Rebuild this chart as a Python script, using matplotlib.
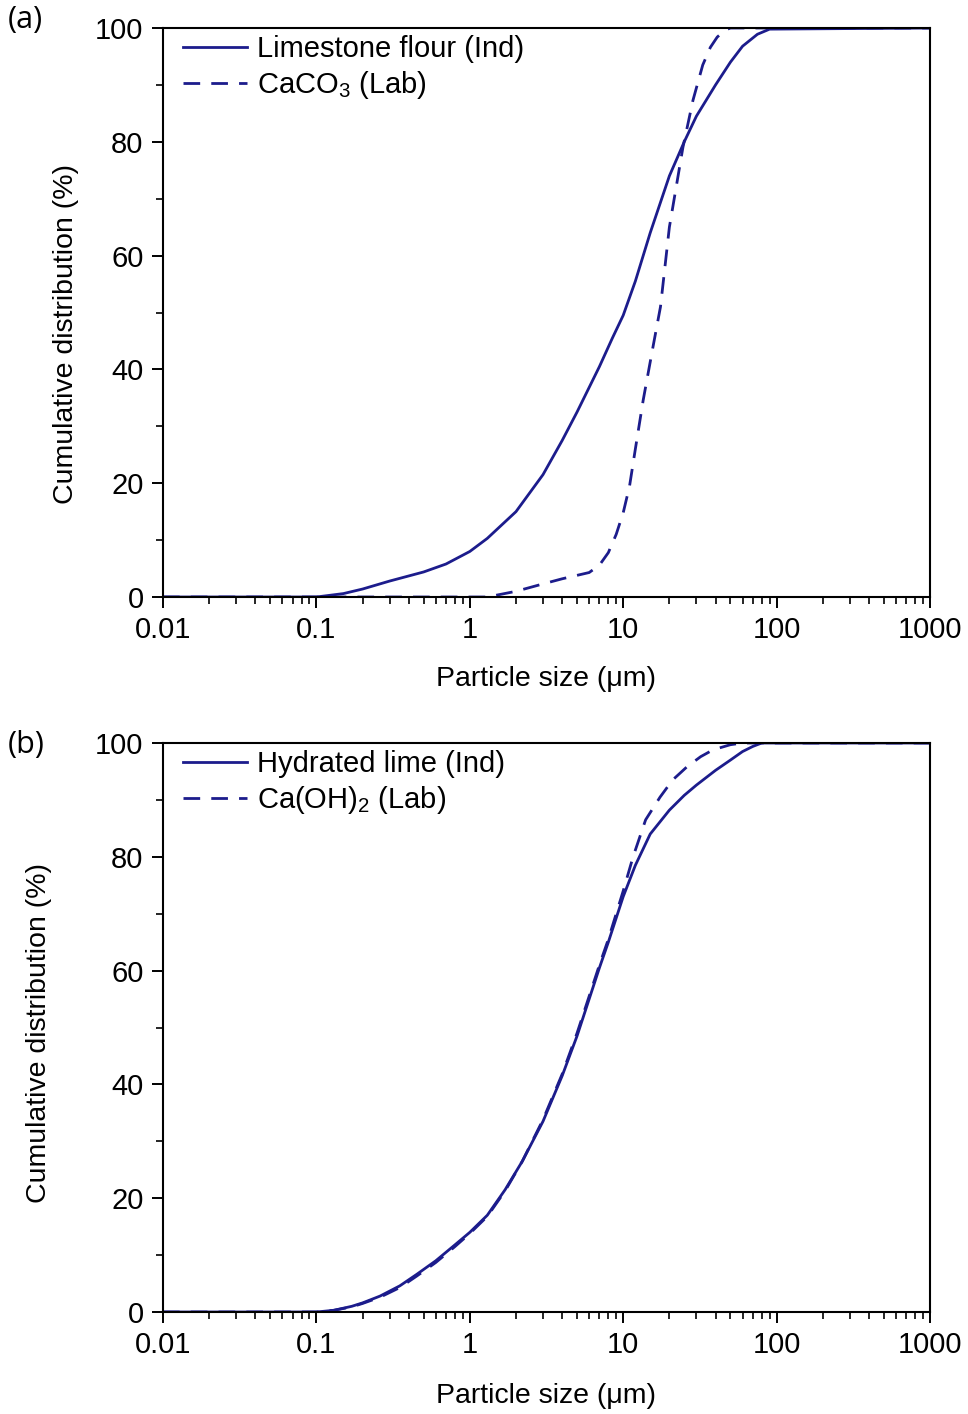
import matplotlib
matplotlib.use("Agg")
import matplotlib.pyplot as plt
from matplotlib.ticker import MultipleLocator, LogLocator, NullFormatter

plt.rcParams["font.family"] = ["Liberation Sans", "DejaVu Sans"]
plt.rcParams["mathtext.default"] = "regular"

# ---------------------------------------------------------------------------
# Data
# ---------------------------------------------------------------------------
# (a) limestone flour vs lab CaCO3
lime_flour_x = [0.01, 0.1, 0.15, 0.2, 0.3, 0.5, 0.7, 1.0, 1.3, 2, 3, 4, 5, 7, 8.5, 10,
                12, 15, 20, 25, 30, 40, 50, 60, 75, 90, 1000]
lime_flour_y = [0, 0, 0.6, 1.4, 2.8, 4.4, 5.8, 8.0, 10.3, 15, 21.5, 27.5, 32.5, 40.5, 45.5, 49.5,
                55.5, 64, 74, 80, 84.5, 90, 94, 96.8, 98.9, 99.8, 100]

caco3_x = [0.01, 1.3, 2, 3, 4, 6, 7, 8, 9, 10, 11, 12, 13.5, 15.5, 17.5, 20, 24.5,
           28.5, 33, 37, 41, 46, 50, 1000]
caco3_y = [0, 0, 1.0, 2.3, 3.2, 4.3, 5.6, 7.8, 11, 14.8, 19.5, 26, 34.6, 43.4, 51, 65, 79,
           87.3, 93.5, 96.6, 98.4, 99.6, 100, 100]

# (b) hydrated lime vs lab Ca(OH)2
hyd_lime_x = [0.01, 0.1, 0.13, 0.17, 0.2, 0.26, 0.35, 0.45, 0.6, 0.8, 1.0, 1.3, 1.7,
              2.2, 3, 4, 5, 6, 7, 8, 10, 12, 15, 20, 25, 30, 40, 50, 60, 70, 80, 1000]
hyd_lime_y = [0, 0, 0.3, 1.0, 1.6, 2.8, 4.6, 6.6, 9, 11.8, 14, 17, 21.5,
              26.5, 33.5, 41.5, 48.5, 55, 60.5, 65, 73, 78.5, 84, 88.2, 90.8, 92.6, 95.2,
              97, 98.5, 99.4, 100, 100]

caoh2_x = [0.01, 0.1, 0.13, 0.17, 0.2, 0.26, 0.35, 0.45, 0.6, 0.8, 1.0, 1.3, 1.7,
           2.2, 3, 4, 5, 6, 7, 8, 10, 11.6, 14, 17.4, 21, 26, 32, 38.5, 50, 60, 1000]
caoh2_y = [0, 0, 0.3, 0.9, 1.5, 2.6, 4.3, 6.3, 8.7, 11.5, 13.8, 16.8, 21.3,
           26.5, 33.8, 41.8, 49, 55.5, 61, 65.5, 74, 80, 86.5, 90.5, 93.5, 95.8, 97.6, 98.8,
           99.7, 100, 100]

x_ticks = [0.01, 0.1, 1, 10, 100, 1000]
x_tick_labels = ["0.01", "0.1", "1", "10", "100", "1000"]
y_ticks = [0, 20, 40, 60, 80, 100]

panels = [
    ("(a)", [("Limestone flour (Ind)", lime_flour_x, lime_flour_y, "-"),
             ("CaCO$_3$ (Lab)", caco3_x, caco3_y, "--")], (-0.11, 0.462), -0.121),
    ("(b)", [("Hydrated lime (Ind)", hyd_lime_x, hyd_lime_y, "-"),
             ("Ca(OH)$_2$ (Lab)", caoh2_x, caoh2_y, "--")], (-0.145, 0.49), -0.125),
]

LINE_COLOR = "#1c1c8c"
W, H = 968, 1414

fig = plt.figure(figsize=(W / 100, H / 100), dpi=100)
fig.patch.set_facecolor("white")

# axes boxes in pixels: (left, top, right, bottom)
boxes = [(163, 28, 930, 597), (163, 743, 930, 1312)]
label_pos = [(8, 20), (8, 745)]

for (tag, series, ylab_xy, xlab_y), (l, t, r, b), (tx, ty) in zip(panels, boxes, label_pos):
    ax = fig.add_axes([l / W, 1 - b / H, (r - l) / W, (b - t) / H])
    for name, xs, ys, ls in series:
        if ls == "--":
            ax.plot(xs, ys, color=LINE_COLOR, lw=2.0, ls=(0, (6, 4)), label=name)
        else:
            ax.plot(xs, ys, color=LINE_COLOR, lw=2.0, ls="-", label=name)

    ax.set_xscale("log")
    ax.set_xlim(0.01, 1000)
    ax.set_ylim(0, 100)
    ax.set_xticks(x_ticks)
    ax.set_xticklabels(x_tick_labels)
    ax.xaxis.set_minor_locator(LogLocator(base=10, subs=range(2, 10), numticks=20))
    ax.xaxis.set_minor_formatter(NullFormatter())
    ax.set_yticks(y_ticks)
    ax.yaxis.set_minor_locator(MultipleLocator(10))

    ax.tick_params(which="major", direction="out", length=8, width=1.4,
                   labelsize=21, pad=6, top=False, right=False)
    ax.tick_params(which="minor", direction="out", length=5, width=1.2,
                   top=False, right=False)
    for sp in ax.spines.values():
        sp.set_linewidth(1.5)

    ax.set_xlabel("Particle size (μm)", fontsize=20.5)
    ax.xaxis.set_label_coords(0.5, xlab_y)
    ax.set_ylabel("Cumulative distribution (%)", fontsize=20.5)
    ax.yaxis.set_label_coords(*ylab_xy)

    ax.legend(loc="upper left", bbox_to_anchor=(0.022, 0.993), frameon=False,
              fontsize=21, handlelength=2.2, handletextpad=0.35, labelspacing=0.2,
              borderpad=0.1, borderaxespad=0.0)

    fig.text(tx / W, 1 - ty / H, tag, fontsize=22, va="center", ha="left",
             family=["Open Sans", "DejaVu Sans"])

fig.savefig("out.png", dpi=100, facecolor="white")
